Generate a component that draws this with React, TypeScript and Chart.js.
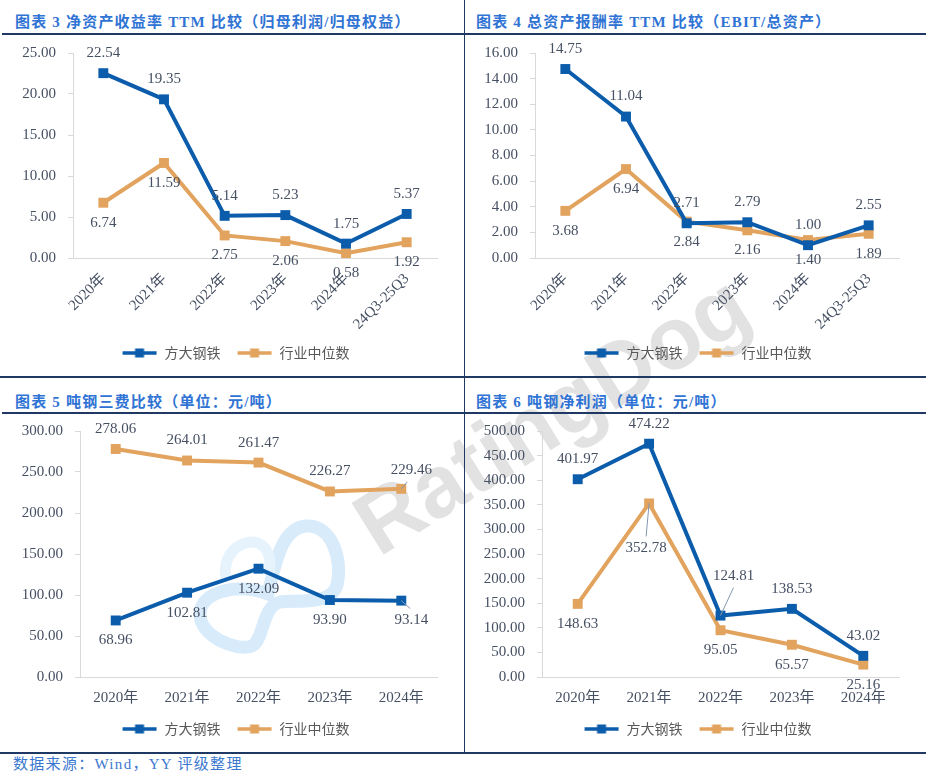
import React, { useEffect, useRef } from 'react';
import { Chart, registerables } from 'chart.js';

Chart.register(...registerables);

const BLUE = '#0b5cab';
const ORANGE = '#e2a35e';
const TICK = '#465063';
const AXIS = '#d9d9d9';
const SERIF = '"Liberation Serif", "Noto Sans CJK SC"';

const seriesNames = ['方大钢铁', '行业中位数'];

// 图表3 / 图表4
const ttmCats = ['2020年', '2021年', '2022年', '2023年', '2024年', '24Q3-25Q3'];
const roeFangda = [22.54, 19.35, 5.14, 5.23, 1.75, 5.37];
const roeMedian = [6.74, 11.59, 2.75, 2.06, 0.58, 1.92];
const roaFangda = [14.75, 11.04, 2.71, 2.79, 1.0, 2.55];
const roaMedian = [3.68, 6.94, 2.84, 2.16, 1.4, 1.89];

// 图表5 / 图表6
const yearCats = ['2020年', '2021年', '2022年', '2023年', '2024年'];
const costFangda = [68.96, 102.81, 132.09, 93.9, 93.14];
const costMedian = [278.06, 264.01, 261.47, 226.27, 229.46];
const profitFangda = [401.97, 474.22, 124.81, 138.53, 43.02];
const profitMedian = [148.63, 352.78, 95.05, 65.57, 25.16];

const swatch = (color: string) => {
  const c = document.createElement('canvas');
  c.width = 36;
  c.height = 12;
  const g = c.getContext('2d')!;
  g.strokeStyle = color;
  g.lineWidth = 3.5;
  g.beginPath();
  g.moveTo(1, 6);
  g.lineTo(35, 6);
  g.stroke();
  g.fillStyle = color;
  g.fillRect(13.5, 1.5, 9, 9);
  return c;
};

// value labels above / below each point, a few moved with a leader line
const pointLabels = {
  id: 'pointLabels',
  afterDatasetsDraw(chart: any, _args: any, opts: any) {
    const ctx = chart.ctx;
    const adjust = (opts && opts.adjust) || {};
    const sides = (opts && opts.sides) || [-1, 1];
    ctx.save();
    ctx.font = '15px "Liberation Serif"';
    ctx.fillStyle = TICK;
    ctx.textAlign = 'center';
    ctx.textBaseline = 'middle';
    chart.data.datasets.forEach((ds: any, di: number) => {
      const side = sides[di];
      chart.getDatasetMeta(di).data.forEach((pt: any, i: number) => {
        const a = adjust[`${di}-${i}`] || {};
        const lx = pt.x + (a.dx || 0);
        const ly = pt.y + (a.dy !== undefined ? a.dy : side * 20);
        if (a.leader) {
          ctx.strokeStyle = '#8497b0';
          ctx.lineWidth = 1;
          ctx.beginPath();
          ctx.moveTo(pt.x, pt.y);
          ctx.lineTo(lx + a.leader[0], ly + a.leader[1]);
          ctx.stroke();
        }
        ctx.fillText(Number(ds.data[i]).toFixed(2), lx, ly);
      });
    });
    ctx.restore();
  },
};

type LineProps = {
  left: number;
  top: number;
  width: number;
  height: number;
  labels: string[];
  fangda: number[];
  median: number[];
  yMax: number;
  yStep: number;
  rotate: boolean;
  padLeft: number;
  padTop: number;
  padBottom: number;
  yWidth: number;
  rightWidth: number;
  xHeight: number;
  xPad: number;
  sides?: number[];
  adjust?: Record<string, any>;
};

const LineChart: React.FC<LineProps> = (p) => {
  const ref = useRef<HTMLCanvasElement>(null);

  useEffect(() => {
    if (!ref.current) return;
    const chart = new Chart(ref.current, {
      type: 'line',
      data: {
        labels: p.labels,
        datasets: [
          {
            label: seriesNames[0],
            data: p.fangda,
            borderColor: BLUE,
            backgroundColor: BLUE,
            borderWidth: 4,
            pointStyle: 'rect',
            pointRadius: 7,
            pointBorderWidth: 0,
            pointBackgroundColor: BLUE,
            tension: 0,
          },
          {
            label: seriesNames[1],
            data: p.median,
            borderColor: ORANGE,
            backgroundColor: ORANGE,
            borderWidth: 4,
            pointStyle: 'rect',
            pointRadius: 7,
            pointBorderWidth: 0,
            pointBackgroundColor: ORANGE,
            tension: 0,
          },
        ],
      },
      options: {
        animation: false,
        responsive: false,
        layout: { padding: { left: p.padLeft, top: p.padTop, right: 0, bottom: p.padBottom } },
        scales: {
          x: {
            offset: true,
            grid: { display: false, drawTicks: false },
            border: { display: true, color: AXIS, width: 1 },
            ticks: {
              color: TICK,
              font: { family: SERIF, size: 15 },
              minRotation: p.rotate ? 45 : 0,
              maxRotation: p.rotate ? 45 : 0,
              padding: p.xPad,
              autoSkip: false,
            },
            afterFit: (s: any) => {
              s.height = p.xHeight;
            },
          },
          y: {
            min: 0,
            max: p.yMax,
            ticks: {
              stepSize: p.yStep,
              color: TICK,
              font: { family: SERIF, size: 15 },
              padding: 12,
              callback: (v: any) => Number(v).toFixed(2),
            },
            grid: { drawOnChartArea: false, drawTicks: true, tickLength: 5, color: AXIS },
            border: { color: AXIS, width: 1 },
            afterFit: (s: any) => {
              s.width = p.yWidth;
              s.paddingTop = 0;
              s.paddingBottom = 0;
            },
          },
          yr: {
            position: 'right',
            grid: { display: false },
            border: { display: false },
            ticks: { display: false },
            afterFit: (s: any) => {
              s.width = p.rightWidth;
              s.paddingTop = 0;
              s.paddingBottom = 0;
            },
          },
        },
        plugins: {
          tooltip: { enabled: false },
          legend: {
            position: 'bottom',
            labels: {
              usePointStyle: true,
              pointStyleWidth: 36,
              boxHeight: 12,
              padding: 16,
              color: '#595959',
              font: { family: '"Noto Sans CJK SC"', size: 14 },
              generateLabels: (c: any) =>
                c.data.datasets.map((ds: any, i: number) => ({
                  text: ds.label,
                  pointStyle: swatch(ds.borderColor),
                  fillStyle: ds.borderColor,
                  strokeStyle: ds.borderColor,
                  lineWidth: 0,
                  hidden: false,
                  datasetIndex: i,
                  fontColor: '#595959',
                })),
            },
          },
          pointLabels: { adjust: p.adjust || {}, sides: p.sides || [-1, 1] },
        } as any,
      },
      plugins: [pointLabels],
    });
    return () => chart.destroy();
  }, []);

  return (
    <canvas
      ref={ref}
      width={p.width}
      height={p.height}
      style={{ position: 'absolute', left: p.left, top: p.top, width: p.width, height: p.height }}
    />
  );
};

const titleStyle = (left: number, top: number): React.CSSProperties => ({
  position: 'absolute',
  left,
  top,
  fontFamily: SERIF,
  fontWeight: 'bold',
  fontSize: 15,
  lineHeight: '20px',
  letterSpacing: 1.2,
  color: '#2f73d4',
  whiteSpace: 'nowrap',
});

const hLine = (top: number, left: number, width: number): React.CSSProperties => ({
  position: 'absolute',
  left,
  top,
  width,
  height: 1.5,
  background: '#1f3864',
});

const vLine = (left: number, top: number, height: number): React.CSSProperties => ({
  position: 'absolute',
  left,
  top,
  width: 1.5,
  height,
  background: '#1f3864',
});

export default function App() {
  return (
    <div style={{ position: 'absolute', left: 0, top: 0, width: 926, height: 776, background: '#fff', overflow: 'hidden' }}>
      <svg width={926} height={776} style={{ position: 'absolute', left: 0, top: 0 }}>
        <path
          d="M 268 594 C 274 570, 280 528, 306 526 C 332 524, 343 560, 337 585 C 331 605, 300 600, 280 602 C 262 606, 264 640, 252 646 C 236 652, 200 636, 200 614 C 200 592, 238 582, 268 594 Z"
          fill="none"
          stroke="#d8ebfb"
          strokeWidth={13}
        />
        <path d="M 226 578 C 222 556, 238 541, 254 542 C 268 544, 273 560, 268 576" fill="none" stroke="#e6f3fd" strokeWidth={11} />
        <text
          x={555}
          y={420}
          transform="rotate(-32 555 420)"
          textAnchor="middle"
          dominantBaseline="middle"
          fontFamily="Liberation Sans"
          fontWeight="bold"
          fontSize={88}
          fill="#e2e2e2"
        >
          RatingDog
        </text>
      </svg>

      <div style={titleStyle(15, 12)}>图表 3 净资产收益率 TTM 比较（归母利润/归母权益）</div>
      <div style={titleStyle(476, 12)}>图表 4 总资产报酬率 TTM 比较（EBIT/总资产）</div>
      <div style={titleStyle(15, 392)}>图表 5 吨钢三费比较（单位：元/吨）</div>
      <div style={titleStyle(476, 392)}>图表 6 吨钢净利润（单位：元/吨）</div>

      <div style={hLine(33, 2, 924)} />
      <div style={hLine(376, 0, 926)} />
      <div style={hLine(412, 2, 924)} />
      <div style={hLine(752, 0, 926)} />
      <div style={vLine(463.5, 0, 752)} />

      <LineChart
        left={0}
        top={36}
        width={463}
        height={336}
        labels={ttmCats}
        fangda={roeFangda}
        median={roeMedian}
        yMax={25}
        yStep={5}
        rotate
        padLeft={8}
        padTop={17}
        padBottom={2}
        yWidth={65}
        rightWidth={26}
        xHeight={72}
        xPad={12}
      />
      <LineChart
        left={465}
        top={36}
        width={461}
        height={336}
        labels={ttmCats}
        fangda={roaFangda}
        median={roaMedian}
        yMax={16}
        yStep={2}
        rotate
        padLeft={4}
        padTop={17}
        padBottom={2}
        yWidth={66}
        rightWidth={27}
        xHeight={72}
        xPad={12}
      />
      <LineChart
        left={0}
        top={414}
        width={463}
        height={336}
        labels={yearCats}
        fangda={costFangda}
        median={costMedian}
        yMax={300}
        yStep={50}
        rotate={false}
        padLeft={8}
        padTop={17}
        padBottom={4}
        yWidth={72}
        rightWidth={26}
        xHeight={29}
        xPad={12}
        sides={[1, -1]}
        adjust={{
          '0-4': { dx: 10, dy: 19, leader: [-1, -11] },
          '1-4': { dx: 10, dy: -19, leader: [-4, 12] },
        }}
      />
      <LineChart
        left={465}
        top={414}
        width={461}
        height={336}
        labels={yearCats}
        fangda={profitFangda}
        median={profitMedian}
        yMax={500}
        yStep={50}
        rotate={false}
        padLeft={4}
        padTop={17}
        padBottom={4}
        yWidth={73}
        rightWidth={27}
        xHeight={29}
        xPad={12}
        adjust={{
          '0-2': { dx: 13, dy: -40, leader: [0, 12] },
          '1-1': { dx: -3, dy: 45, leader: [0, -12] },
        }}
      />

      <div
        style={{
          position: 'absolute',
          left: 13,
          top: 754,
          fontFamily: SERIF,
          fontSize: 15,
          lineHeight: '20px',
          letterSpacing: 1.3,
          color: '#3a78d0',
          whiteSpace: 'nowrap',
        }}
      >
        数据来源：Wind，YY 评级整理
      </div>
    </div>
  );
}
